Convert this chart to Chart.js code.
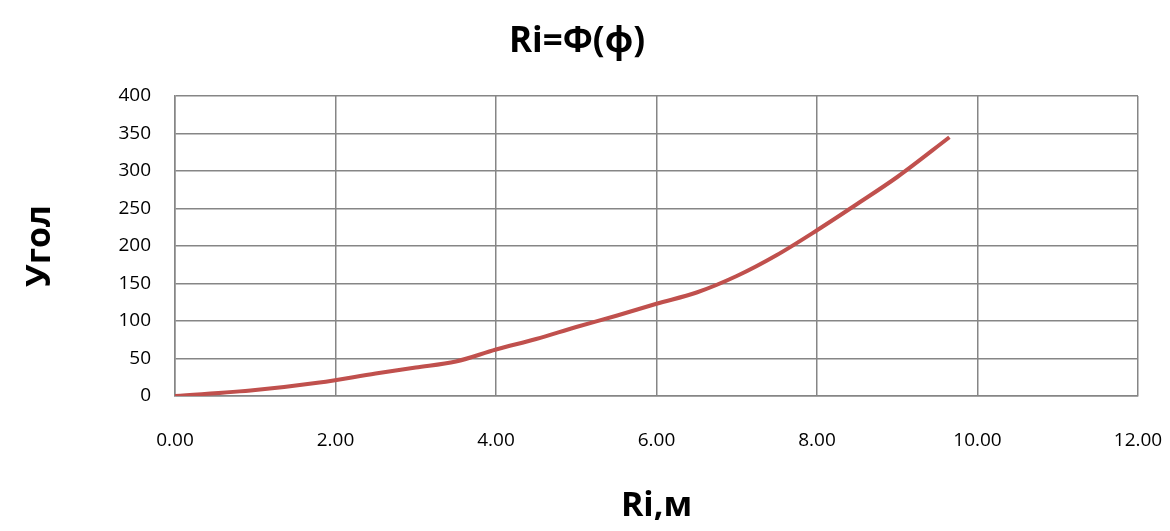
<!DOCTYPE html>
<html>
<head>
<meta charset="utf-8">
<script src="https://cdn.jsdelivr.net/npm/chart.js@4"></script>
<style>
    html, body { margin: 0; padding: 0; background: #fff; }
    #wrap { width: 1170px; height: 531px; }
</style>
</head>
<body>
<div id="wrap"><canvas id="riChart"></canvas></div>
<script>
// radius values (x) and angle values (y)
var radius = [0.00, 1.00, 1.80, 2.50, 3.00, 3.50, 4.00, 4.50, 5.00, 5.50, 6.00, 6.50, 7.00, 7.50, 8.00, 8.50, 9.00, 9.65];
var angle  = [0, 8, 18, 30, 38, 46, 62, 76, 92, 107, 123, 138, 160, 188, 221, 256, 292, 345];
var xTicks = [0, 2, 4, 6, 8, 10, 12];
var yTicks = [0, 50, 100, 150, 200, 250, 300, 350, 400];

var points = radius.map(function(r, i) {
    return { x: r, y: angle[i] };
});

var gridColor = '#868686';
var fontName = "'Open Sans', 'DejaVu Sans', sans-serif";

var ctx = document.getElementById('riChart').getContext('2d');
var myChart = new Chart(ctx, {
    type: 'scatter',
    data: {
        datasets: [{
            data: points,
            showLine: true,
            borderColor: '#C0504D',
            borderWidth: 4,
            pointRadius: 0,
            cubicInterpolationMode: 'monotone',
            fill: false
        }]
    },
    options: {
        responsive: true,
        maintainAspectRatio: false,
        animation: false,
        layout: { padding: { top: 0, right: 32, bottom: 0, left: 16 } },
        plugins: {
            legend: { display: false },
            tooltip: { enabled: false },
            title: {
                display: true,
                text: 'Ri=Φ(ф)',
                color: '#000',
                font: { family: fontName, size: 35, weight: 'bold' },
                padding: { top: 21, bottom: 33 }
            }
        },
        scales: {
            x: {
                type: 'linear',
                min: 0,
                max: 12,
                afterBuildTicks: function(scale) {
                    scale.ticks = xTicks.map(function(v) { return { value: v }; });
                },
                afterFit: function(scale) {
                    scale.height = 135;
                    scale.paddingLeft = 0;
                    scale.paddingRight = 0;
                },
                ticks: {
                    color: '#000',
                    font: { family: fontName, size: 19 },
                    padding: 33,
                    maxRotation: 0,
                    callback: function(v) { return Number(v).toFixed(2); }
                },
                grid: { color: gridColor, lineWidth: 1.5, drawTicks: false },
                border: { color: gridColor, width: 1.5 },
                title: {
                    display: true,
                    text: 'Ri,м',
                    color: '#000',
                    font: { family: fontName, size: 34, weight: 'bold' },
                    padding: { top: 30 }
                }
            },
            y: {
                type: 'linear',
                min: 0,
                max: 400,
                afterBuildTicks: function(scale) {
                    scale.ticks = yTicks.map(function(v) { return { value: v }; });
                },
                afterFit: function(scale) { scale.width = 159; },
                ticks: {
                    color: '#000',
                    font: { family: fontName, size: 19 },
                    padding: 24
                },
                grid: { color: gridColor, lineWidth: 1.5, drawTicks: false },
                border: { color: gridColor, width: 1.5 },
                title: {
                    display: true,
                    text: 'Угол',
                    color: '#000',
                    font: { family: fontName, size: 34, weight: 'bold' },
                    padding: { bottom: 0 }
                }
            }
        }
    }
});
window.myChart = myChart;
</script>
</body>
</html>
